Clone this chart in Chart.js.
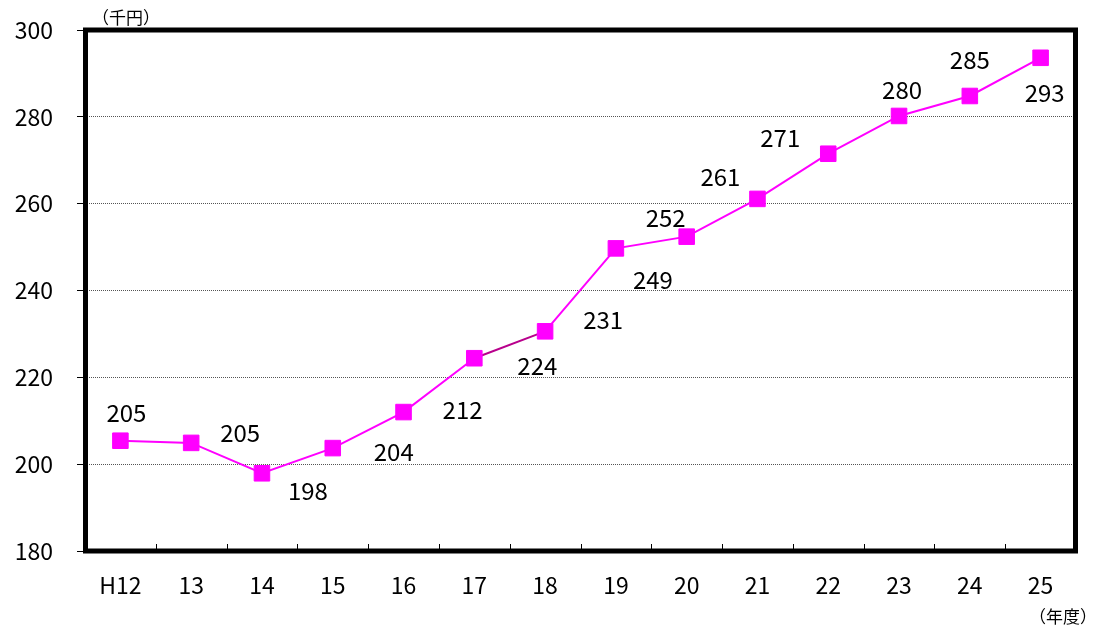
<!DOCTYPE html>
<html>
<head>
<meta charset="utf-8">
<script src="https://cdn.jsdelivr.net/npm/chart.js@4/dist/chart.umd.min.js"></script>
<style>
  html, body { margin: 0; padding: 0; background: #fff; }
  #wrap { width: 1096px; height: 630px; }
</style>
</head>
<body>
<div id="wrap"><canvas id="chart" width="1096" height="630"></canvas></div>
<script>
// 年度別 (千円)
const years = ['H12', '13', '14', '15', '16', '17', '18', '19', '20', '21', '22', '23', '24', '25'];
const amounts = [205.4, 204.9, 197.9, 203.7, 212.0, 224.4, 230.6, 249.7, 252.4, 261.1, 271.5, 280.2, 284.8, 293.6];
const amountLabels = ['205', '205', '198', '204', '212', '224', '231', '249', '252', '261', '271', '280', '285', '293'];
const yTicks = [180, 200, 220, 240, 260, 280, 300];

const FONT = '"Noto Sans CJK JP", "Noto Sans", sans-serif';
const MAGENTA = '#ff00ff';

// ラベルの位置 (点からのずれ, px)
const labelShift = [
    [6, -28], [49, -10], [46, 18], [61, 4], [59, -2], [63, 8], [58, -11],
    [37, 31], [-21, -19], [-37, -22], [-48, -16], [3, -26], [0, -36], [4, 35]
];

const framePlugin = {
    id: 'frame',
    afterDraw(chart) {
        const { ctx, chartArea: { left, right, top, bottom } } = chart;
        const xs = chart.scales.x;
        ctx.save();

        // x軸の目盛り (内向き)
        ctx.strokeStyle = '#000';
        ctx.lineWidth = 1;
        for (let i = 1; i < years.length; i++) {
            const px = Math.round((xs.getPixelForValue(i - 1) + xs.getPixelForValue(i)) / 2) + 0.5;
            ctx.beginPath();
            ctx.moveTo(px, bottom);
            ctx.lineTo(px, bottom - 7);
            ctx.stroke();
        }

        // 外枠
        ctx.lineWidth = 5;
        ctx.strokeStyle = '#000';
        ctx.strokeRect(left + 0.5, top, right - left - 1, bottom - top);

        // データラベル
        const meta = chart.getDatasetMeta(0);
        ctx.font = '24px ' + FONT;
        ctx.fillStyle = '#000';
        ctx.textAlign = 'center';
        ctx.textBaseline = 'middle';
        meta.data.forEach((pt, i) => {
            const [dx, dy] = labelShift[i];
            ctx.fillText(amountLabels[i], pt.x + dx, pt.y + dy);
        });

        // 単位
        ctx.font = '17px ' + FONT;
        ctx.fillText('（千円）', 126, 18);
        ctx.fillText('（年度）', 1063, 617);
        ctx.restore();
    }
};

new Chart(document.getElementById('chart').getContext('2d'), {
    type: 'line',
    data: {
        labels: years,
        datasets: [{
            data: amounts,
            borderColor: MAGENTA,
            borderWidth: 2,
            backgroundColor: MAGENTA,
            pointStyle: 'rect',
            pointRadius: 11,
            pointHoverRadius: 11,
            pointBackgroundColor: MAGENTA,
            pointBorderColor: MAGENTA,
            pointBorderWidth: 1,
            tension: 0,
            segment: {
                borderColor: c => c.p0DataIndex === 5 ? '#b8008c' : MAGENTA
            }
        }]
    },
    options: {
        responsive: false,
        animation: false,
        devicePixelRatio: 1,
        layout: { autoPadding: false, padding: { top: 30, right: 20, left: 0, bottom: 0 } },
        plugins: {
            legend: { display: false },
            tooltip: { enabled: false }
        },
        scales: {
            x: {
                offset: true,
                afterFit: s => { s.height = 79; },
                grid: { display: false, drawTicks: false },
                border: { display: false },
                ticks: {
                    padding: 20,
                    color: '#000',
                    font: { family: FONT, size: 23 }
                }
            },
            y: {
                min: 180,
                max: 300,
                afterFit: s => { s.width = 85; s.paddingTop = 0; s.paddingBottom = 0; },
                afterBuildTicks: s => { s.ticks = yTicks.map(v => ({ value: v })); },
                grid: {
                    color: '#555',
                    lineWidth: 1,
                    drawTicks: true,
                    tickLength: 8,
                    tickColor: '#000',
                    tickBorderDash: []
                },
                border: { display: false, dash: [1, 1] },
                ticks: {
                    padding: 24,
                    color: '#000',
                    font: { family: FONT, size: 23 }
                }
            }
        }
    },
    plugins: [framePlugin]
});
</script>
</body>
</html>
